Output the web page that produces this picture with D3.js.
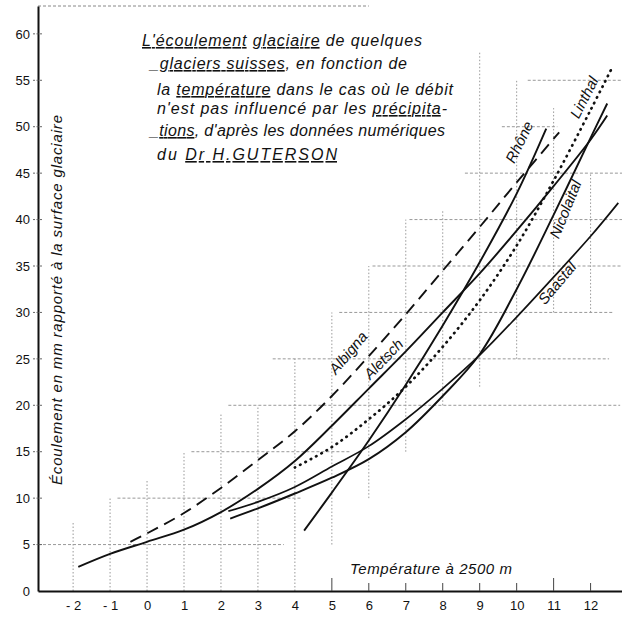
<!DOCTYPE html>
<html>
<head>
<meta charset="utf-8">
<script src="https://cdn.jsdelivr.net/npm/d3@7"></script>
<style>
  body { margin: 0; background: #fff; }
  svg { display: block; }
  text { font-family: "Liberation Sans", Arial, sans-serif; fill: #111; }
</style>
</head>
<body>
<div id="chart"></div>
<script>
// values (temperature °C, écoulement mm)
var xTicks = [-2, -1, 0, 1, 2, 3, 4, 5, 6, 7, 8, 9, 10, 11, 12]
var yTicks = [0, 5, 10, 15, 20, 25, 30, 35, 40, 45, 50, 55, 60]

var albigna = [[-0.45,5.3],[0,6.2],[1,8.4],[2,11.1],[3,14.1],[4,17.2],[5,21.0],[6,25.3],[7,29.8],[8,34.5],[9,39.2],[10,44.0],[11.15,49.4]]
var aletsch = [[-1.86,2.6],[-1,4.0],[0,5.3],[1,6.6],[2,8.5],[3,11],[4,14],[5,17.8],[6,21.8],[7,25.8],[8,30],[9,34.2],[10,38.8],[11,43.6],[12,48.6],[12.45,51.2]]
var rhone = [[4.25,6.5],[5,10.6],[6,16.2],[7,22.2],[8,28.6],[9,35.4],[10,42.8],[10.8,49.8]]
var linthal = [[4.0,13.3],[5,15.5],[6,18.5],[7,22],[8,26.3],[9,31.3],[10,37.2],[11,44.2],[12,51.8],[12.6,56.5]]
var nicolaital = [[2.25,7.8],[3,8.9],[4,10.5],[5,12.2],[6,14.2],[7,17.1],[8,21.0],[9,25.5],[10,32.5],[11,40.5],[12,48.8],[12.45,52.5]]
var saastal = [[2.2,8.6],[3,9.6],[4,11.2],[5,13.4],[6,15.6],[7,18.5],[8,21.8],[9,25.4],[10,29.5],[11,33.8],[12,38.2],[12.75,41.8]]

// labels: name, x, y (data units), angle
var curveLabels = [
  ["Albigna", 5.55, 25.3, -50],
  ["Aletsch", 6.5, 24.6, -46],
  ["Rhône", 10.2, 48.1, -64],
  ["Linthal", 11.95, 52.9, -63],
  ["Nicolaital", 11.45, 40.9, -68],
  ["Saastal", 11.2, 32.8, -50]
]

// background graph paper, staircase bits [x, yFrom, yTo] and [y, xFrom, xTo]
var gridV = [[-2,0,7.5],[-1,0,10],[0,0,12],[1,0,15],[2,0,19],[3,0,20],[4,0,25],[5,5,30],[6,10,35],[7,15,40],[8,20,41],[9,22,58],[10,25,55],[11,30,52],[12,30,45]]
var gridH = [[5,-2.95,3.7],[10,-0.8,4.2],[15,1.2,5.5],[20,2.2,12.8],[25,3.4,12.5],[30,5.2,12.6],[35,6.1,12.85],[40,7.1,12.85],[45,8.6,12.85],[50,9.6,11.1],[55,10.3,12.85]]

var title = [
  [["L'écoulement", true], [" ", false], ["glaciaire", true], [" de quelques", false]],
  [["_", false], ["glaciers suisses", true], [", en fonction de", false]],
  [["la ", false], ["température", true], [" dans le cas où le débit", false]],
  [["n'est pas influencé par les ", false], ["précipita", true], ["-", false]],
  [["_", false], ["tions", true], [", d'après les données numériques", false]],
  [["du  ", false], ["Dr H.GUTERSON", true]]
]
var titleX = [142, 150, 157, 157, 150, 157]
var titleLen = [280, 257, 296, 290, 295, 180]

var W = 622, H = 620

var svg = d3.select("#chart").append("svg")
    .attr("width", W)
    .attr("height", H)

var x = d3.scaleLinear().domain([-2.95, 12.85]).range([38, 622])
var y = d3.scaleLinear().domain([0, 63]).range([591, 6])

// grid
svg.append("g").selectAll("line.gv").data(gridV)
  .enter().append("line")
  .attr("x1", d => x(d[0])).attr("x2", d => x(d[0]))
  .attr("y1", d => y(d[1])).attr("y2", d => y(d[2]))
  .attr("stroke", "#999").attr("stroke-width", 1)
  .attr("stroke-dasharray", "1.5,2")

svg.append("g").selectAll("line.gh").data(gridH)
  .enter().append("line")
  .attr("x1", d => x(d[1])).attr("x2", d => x(d[2]))
  .attr("y1", d => y(d[0])).attr("y2", d => y(d[0]))
  .attr("stroke", "#999").attr("stroke-width", 1)
  .attr("stroke-dasharray", "3,2")

// top border
svg.append("line")
  .attr("x1", x(-2.95)).attr("x2", x(6))
  .attr("y1", y(63)).attr("y2", y(63))
  .attr("stroke", "#888").attr("stroke-dasharray", "3,2")

// axes
var xAxis = d3.axisBottom(x).tickValues(xTicks).tickSize(0).tickPadding(10)
  .tickFormat(d => d < 0 ? "- " + Math.abs(d) : d)
var gx = svg.append("g").attr("transform", "translate(0," + y(0) + ")").call(xAxis)
gx.select(".domain").attr("stroke", "#111").attr("stroke-width", 2)
gx.selectAll("text").style("font-size", "13px").attr("fill", "#111")

var yAxis = d3.axisLeft(y).tickValues(yTicks).tickSize(0).tickPadding(8)
var gy = svg.append("g").attr("transform", "translate(" + x(-2.95) + ",0)").call(yAxis)
gy.select(".domain").attr("stroke", "#111").attr("stroke-width", 2)
gy.selectAll("text").style("font-size", "13px").attr("fill", "#111")

// little tick dashes
svg.append("g").selectAll("line").data(yTicks.slice(1))
  .enter().append("line")
  .attr("x1", x(-2.95) - 5).attr("x2", x(-2.95) + 5)
  .attr("y1", d => y(d)).attr("y2", d => y(d))
  .attr("stroke", "#666").attr("stroke-dasharray", "2,1.5")

svg.append("g").selectAll("line").data(xTicks.filter(d => d >= 5))
  .enter().append("line")
  .attr("x1", d => x(d)).attr("x2", d => x(d))
  .attr("y1", y(0)).attr("y2", d => y(0) - (d == 5 || d == 11 ? 13 : 8))
  .attr("stroke", "#444").attr("stroke-width", 1)

// curves
var line = d3.line().x(d => x(d[0])).y(d => y(d[1])).curve(d3.curveCatmullRom.alpha(0.5))

function drawCurve(pts, dash, width, cap) {
  svg.append("path")
    .datum(pts)
    .attr("d", line)
    .attr("fill", "none")
    .attr("stroke", "#111")
    .attr("stroke-width", width)
    .attr("stroke-linecap", cap)
    .attr("stroke-dasharray", dash)
}
drawCurve(albigna, "12,7", 1.9, "butt")
drawCurve(aletsch, null, 1.9, "butt")
drawCurve(rhone, null, 1.9, "butt")
drawCurve(linthal, "0.5,5.5", 2.7, "round")
drawCurve(nicolaital, null, 1.9, "butt")
drawCurve(saastal, null, 1.7, "butt")

// curve names
svg.append("g").selectAll("text").data(curveLabels)
  .enter().append("text")
  .attr("transform", d => "translate(" + x(d[1]) + "," + y(d[2]) + ") rotate(" + d[3] + ")")
  .attr("text-anchor", "middle")
  .style("font-size", "15px")
  .style("font-style", "italic")
  .text(d => d[0])

// title block
title.forEach(function(parts, i) {
  var t = svg.append("text")
    .attr("x", titleX[i])
    .attr("y", [46, 69, 95, 114, 136, 160][i])
    .attr("textLength", titleLen[i])
    .attr("lengthAdjust", "spacing")
    .style("font-size", "16px")
    .style("font-style", "italic")
  parts.forEach(function(p) {
    t.append("tspan").text(p[0]).style("text-decoration", p[1] ? "underline" : "none")
  })
})

// axis titles
svg.append("text")
  .attr("transform", "translate(62," + 300 + ") rotate(-90)")
  .attr("text-anchor", "middle")
  .attr("textLength", 370)
  .attr("lengthAdjust", "spacing")
  .style("font-size", "15px")
  .style("font-style", "italic")
  .text("Écoulement en mm rapporté à la surface glaciaire")

svg.append("text")
  .attr("x", 350).attr("y", 574)
  .attr("textLength", 162)
  .attr("lengthAdjust", "spacing")
  .style("font-size", "15px")
  .style("font-style", "italic")
  .text("Température à 2500 m")
</script>
</body>
</html>
